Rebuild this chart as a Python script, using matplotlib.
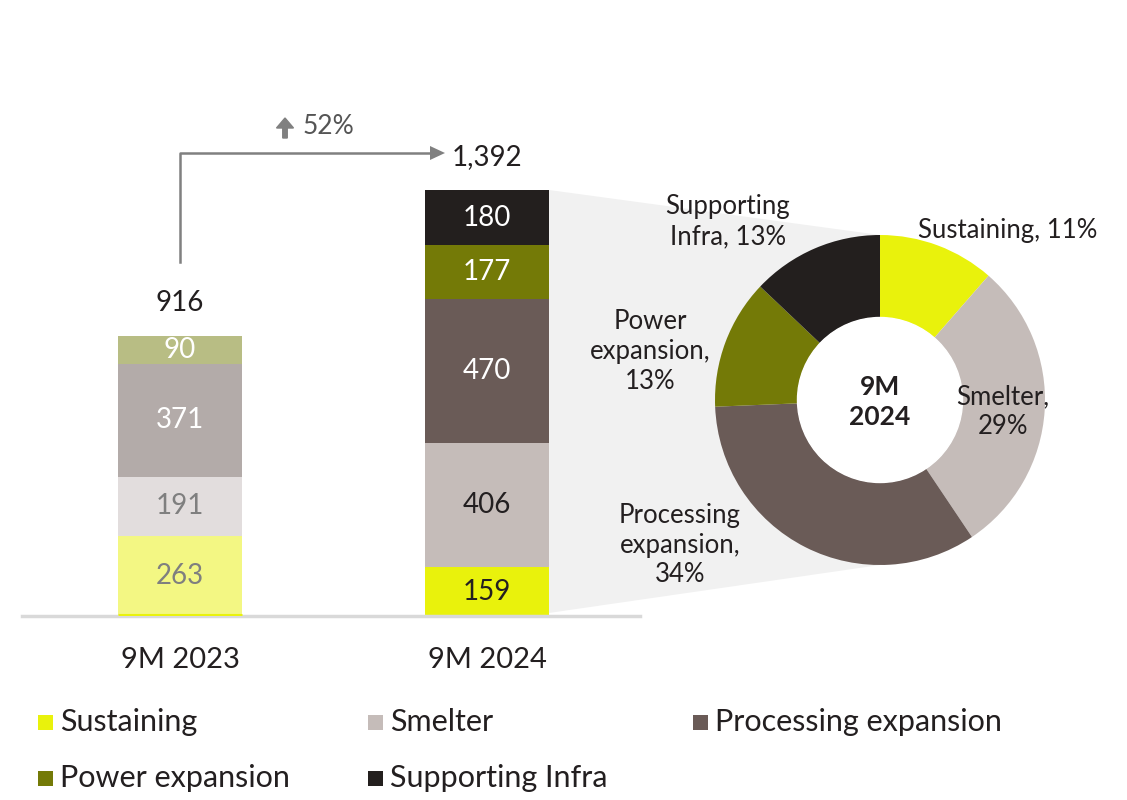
import matplotlib
matplotlib.use("Agg")
import matplotlib.pyplot as plt
from matplotlib.patches import Polygon, Circle
import numpy as np

plt.rcParams['font.family'] = ['Lato', 'DejaVu Sans']
LW = "normal"

# ---- data ----
periods = ["9M 2023", "9M 2024"]
categories = ["Sustaining", "Smelter", "Processing expansion", "Power expansion", "Supporting Infra"]
values_2023 = [263, 191, 371, 90, 0]
values_2024 = [159, 406, 470, 177, 180]
totals = [916, 1392]
growth_label = "52%"
pie_labels = ["Sustaining, 11%", "Smelter,\n29%", "Processing\nexpansion,\n34%",
              "Power\nexpansion,\n13%", "Supporting\nInfra, 13%"]
pie_center_label = "9M\n2024"

colors = ["#E9F20C", "#C5BCB9", "#6A5B57", "#747A07", "#231F1E"]
colors_faded = ["#F3F783", "#E2DDDD", "#B3ABA9", "#B8BD84", "#A7A5A5"]
lab_col_2023 = ["#7F7F7F", "#7F7F7F", "white", "white", "white"]
lab_col_2024 = ["#231F20", "#231F20", "white", "white", "white"]

W, H = 1127, 800
fig = plt.figure(figsize=(W / 100, H / 100), dpi=100)

# background axes in pixel coordinates
bg = fig.add_axes([0, 0, 1, 1], zorder=0)
bg.set_xlim(0, W)
bg.set_ylim(H, 0)
bg.axis("off")

# bar axes
base_px, top_px = 616, 40
bar_top_px = 190
ax = fig.add_axes([22 / W, (H - base_px) / H, 618 / W, (base_px - top_px) / H], zorder=2)
ax.patch.set_alpha(0)
ymax = totals[1] * (base_px - top_px) / (base_px - bar_top_px)
ax.set_ylim(0, ymax)
ax.set_xlim(-0.515, 1.498)
bw = 0.404
x = np.arange(len(periods))

bottom = 0
for i, v in enumerate(values_2023):
    if v > 0:
        ax.bar(x[0], v, bw, bottom=bottom, color=colors_faded[i], zorder=2)
        ax.text(x[0], bottom + v / 2, f"{v:,}", ha="center", va="center",
                fontsize=20, color=lab_col_2023[i], zorder=3, fontweight=LW)
    bottom += v
# thin bright sustaining strip at base of 2023 bar
ax.plot([x[0] - bw / 2, x[0] + bw / 2], [4, 4], color=colors[0], lw=2.2, zorder=3,
        solid_capstyle="butt")

bottom = 0
for i, v in enumerate(values_2024):
    ax.bar(x[1], v, bw, bottom=bottom, color=colors[i], zorder=2)
    ax.text(x[1], bottom + v / 2, f"{v:,}", ha="center", va="center",
            fontsize=20, color=lab_col_2024[i], zorder=3, fontweight=LW)
    bottom += v

for xi, t in zip(x, totals):
    ax.text(xi, t + 108, f"{t:,}", ha="center", va="center", fontsize=20,
            color="#231F20", fontweight=LW)

ax.set_xticks(x)
ax.set_xticklabels(periods, fontsize=21, color="#231F20", fontweight=LW)
ax.tick_params(axis="x", length=0, pad=22)
ax.set_yticks([])
for s in ["top", "left", "right"]:
    ax.spines[s].set_visible(False)
ax.spines["bottom"].set_color("#D9D9D9")
ax.spines["bottom"].set_linewidth(2.5)

# pie axes
cx, cy, R = 880, 400, 165
half = 180
pax = fig.add_axes([(cx - half) / W, (H - cy - half) / H, 2 * half / W, 2 * half / H], zorder=3)
pax.pie(values_2024, colors=colors, startangle=90, counterclock=False, radius=1,
        wedgeprops=dict(width=0.5, linewidth=0))
pax.set_xlim(-half / R, half / R)
pax.set_ylim(-half / R, half / R)
pax.set_aspect("equal")
pax.axis("off")
pax.add_patch(Circle((0, 0), 0.5, color="white", zorder=5))
pax.text(0, -0.01, pie_center_label, ha="center", va="center", fontsize=19,
         fontweight="bold", color="#231F20", linespacing=1.3, zorder=6)

def ppos(px, py):
    return ((px - cx) / R, (cy - py) / R)

label_px = [(1008, 231), (1003, 412), (680, 545), (650, 352), (728, 222)]
for lab, (px, py) in zip(pie_labels, label_px):
    lx, ly = ppos(px, py)
    pax.text(lx, ly, lab, ha="center", va="center", fontsize=18.5, color="#231F20",
             linespacing=1.25, zorder=6, fontweight=LW, clip_on=False)

# grey connector polygon
to_bg = bg.transData.inverted()
tl = to_bg.transform(ax.transData.transform((x[1] + bw / 2, totals[1])))
bl = to_bg.transform(ax.transData.transform((x[1] + bw / 2, 10)))
tr = to_bg.transform(pax.transData.transform((0, 1.0)))
br = to_bg.transform(pax.transData.transform((0, -1.0)))
bg.add_patch(Polygon([tl, tr, br, bl], closed=True, facecolor="#F1F1F1", edgecolor="none"))

# growth arrow
b1x = to_bg.transform(ax.transData.transform((x[0], 0)))[0]
arrow_y = 153
bg.plot([b1x, b1x, 432], [262, arrow_y, arrow_y], color="#808080", lw=1.8)
bg.add_patch(Polygon([[430, arrow_y - 7], [445, arrow_y], [430, arrow_y + 7]],
                     closed=True, facecolor="#808080", edgecolor="none"))
bg.arrow(285, 138, 0, -10, width=4.5, head_width=17, head_length=10,
         color="#808080", length_includes_head=False)
bg.text(303, 127, growth_label, ha="left", va="center", fontsize=19,
        color="#555555", fontweight=LW)

# legend
leg_pos = [(38, 722), (368, 722), (693, 722), (38, 778), (368, 778)]
for (lx, ly), c, name in zip(leg_pos, colors, categories):
    bg.add_patch(plt.Rectangle((lx, ly - 7), 15, 15, facecolor=c, edgecolor="none"))
    bg.text(lx + 22, ly, name, ha="left", va="center", fontsize=22,
            color="#231F20", fontweight=LW)

fig.savefig("out.png", dpi=100)
